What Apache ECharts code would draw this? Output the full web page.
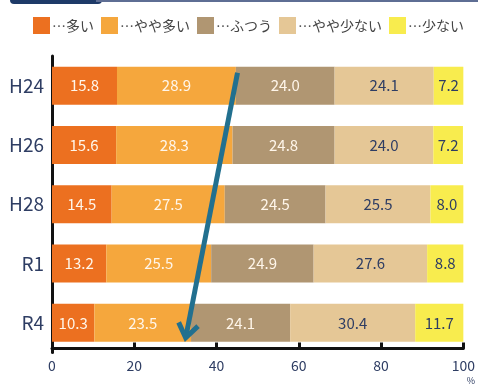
<!DOCTYPE html>
<html>
<head>
<meta charset="utf-8">
<script src="https://cdn.jsdelivr.net/npm/echarts@6/dist/echarts.min.js"></script>
<style>
  html, body { margin: 0; padding: 0; background: #fff; }
  #chart { width: 478px; height: 385px; }
</style>
</head>
<body>
<div id="chart"></div>
<script>
// Survey years (top to bottom)
const years = ['H24', 'H26', 'H28', 'R1', 'R4'];

// Response shares (%) per year
const seriesNames = ['…多い', '…やや多い', '…ふつう', '…やや少ない', '…少ない'];
const many       = [15.8, 15.6, 14.5, 13.2, 10.3];
const ratherMany = [28.9, 28.3, 27.5, 25.5, 23.5];
const normal     = [24.0, 24.8, 24.5, 24.9, 24.1];
const ratherFew  = [24.1, 24.0, 25.5, 27.6, 30.4];
const few        = [7.2, 7.2, 8.0, 8.8, 11.7];

const xTicks = [0, 20, 40, 60, 80, 100];

const colors = ['#EC7020', '#F5A73D', '#B09672', '#E5C796', '#F8EC4E'];
const labelColors = ['#FFF6EA', '#FFF6EA', '#FFF6EA', '#2E3D63', '#2E3D63'];
const values = [many, ratherMany, normal, ratherFew, few];

const FONT = '"Noto Sans CJK JP", "Noto Sans", sans-serif';
const NAVY = '#2E3D63';

const chart = echarts.init(document.getElementById('chart'), null, { renderer: 'canvas' });

const series = seriesNames.map((name, i) => ({
  name: name,
  type: 'bar',
  stack: 'total',
  barWidth: 38,
  data: values[i],
  itemStyle: { color: colors[i] },
  label: {
    show: true,
    position: 'inside',
    color: labelColors[i],
    fontFamily: FONT,
    fontSize: 15,
    formatter: p => p.value.toFixed(1)
  },
  emphasis: { disabled: true }
}));

chart.setOption({
  animation: false,
  textStyle: { fontFamily: FONT },
  legend: {
    top: 12,
    left: 28,
    itemWidth: 17,
    itemHeight: 17,
    itemGap: 7,
    icon: 'rect',
    textStyle: { fontSize: 14, color: '#444', fontFamily: FONT, padding: [0, 0, 0, -3] },
    data: seriesNames
  },
  grid: { left: 52, right: 13, top: 56, bottom: 32, containLabel: false },
  xAxis: {
    type: 'value',
    min: 0,
    max: 100,
    interval: 20,
    offset: -4,
    axisLine: { show: true, lineStyle: { color: '#111', width: 3 } },
    axisTick: { show: true, inside: true, length: 6, lineStyle: { color: '#111', width: 3 } },
    splitLine: { show: false },
    axisLabel: {
      margin: 9,
      color: NAVY,
      fontSize: 14,
      fontFamily: FONT,
      formatter: v => v === 100 ? '{n|100}\n{p|%}' : '{n|' + v + '}',
      rich: {
        n: { fontSize: 14, color: NAVY, fontFamily: FONT, lineHeight: 17 },
        p: { fontSize: 9, color: NAVY, fontFamily: FONT, lineHeight: 12, align: 'right', padding: [0, 0, 0, 10] }
      }
    }
  },
  yAxis: {
    type: 'category',
    data: years,
    inverse: true,
    axisLine: { show: true, lineStyle: { color: '#111', width: 3 } },
    axisTick: { show: false },
    axisLabel: { margin: 8, color: NAVY, fontSize: 19, fontFamily: FONT }
  },
  series: series
});

// Trend arrow across the "やや多い" / "ふつう" boundary, placed in data space
function drawArrow() {
  const xPix = v => chart.convertToPixel({ xAxisIndex: 0 }, v);
  const yPix = c => chart.convertToPixel({ yAxisIndex: 0 }, c);
  const x0 = xPix(45.1), y0 = yPix(years[0]) - 13;
  const x1 = xPix(32.5), y1 = yPix(years[years.length - 1]) + 15;
  const ang = Math.atan2(y1 - y0, x1 - x0);
  const armLen = 17, spread = 0.62;
  const a1 = [x1 - armLen * Math.cos(ang - spread), y1 - armLen * Math.sin(ang - spread)];
  const a2 = [x1 - armLen * Math.cos(ang + spread), y1 - armLen * Math.sin(ang + spread)];
  const ARROW = '#22708F';
  chart.setOption({
    graphic: [
      { type: 'rect', shape: { x: 10, y: -4, width: 92, height: 8, r: 4 }, style: { fill: '#1E3A68' }, silent: true },
      { type: 'rect', shape: { x: 96, y: 0, width: 382, height: 2 }, style: { fill: '#5E6E94' }, silent: true },
      { type: 'line', shape: { x1: x0, y1: y0, x2: x1 - 2 * Math.cos(ang), y2: y1 - 2 * Math.sin(ang) },
        style: { stroke: ARROW, lineWidth: 5 }, silent: true, z: 100 },
      { type: 'polyline', shape: { points: [a1, [x1, y1], a2] },
        style: { stroke: ARROW, lineWidth: 5, fill: null, lineJoin: 'miter' }, silent: true, z: 100 }
    ]
  });
}
drawArrow();
</script>
</body>
</html>
